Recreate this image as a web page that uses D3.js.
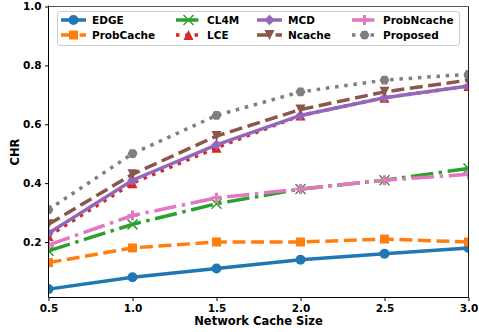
<!DOCTYPE html>
<html><head><meta charset="utf-8">
<script src="https://cdn.jsdelivr.net/npm/d3@7"></script>
<style>body{margin:0;background:#fff}svg{display:block}text{font-family:"DejaVu Sans",sans-serif;font-weight:bold}</style>
</head><body>
<svg id="c" width="479" height="332"></svg>
<script>
const xValues = [0.5, 1.0, 1.5, 2.0, 2.5, 3.0];
const xTicks = [0.5, 1.0, 1.5, 2.0, 2.5, 3.0];
const yTicks = [0.2, 0.4, 0.6, 0.8, 1.0];
const seriesNames = ["EDGE","ProbCache","CL4M","LCE","MCD","Ncache","ProbNcache","Proposed"];
const EDGE = [0.04, 0.08, 0.11, 0.14, 0.16, 0.18];
const ProbCache = [0.13, 0.18, 0.20, 0.20, 0.21, 0.20];
const CL4M = [0.17, 0.26, 0.33, 0.38, 0.41, 0.45];
const LCE = [0.22, 0.40, 0.52, 0.63, 0.69, 0.73];
const MCD = [0.23, 0.41, 0.53, 0.63, 0.69, 0.73];
const Ncache = [0.26, 0.43, 0.56, 0.65, 0.71, 0.75];
const ProbNcache = [0.19, 0.29, 0.35, 0.38, 0.41, 0.43];
const Proposed = [0.31, 0.50, 0.63, 0.71, 0.75, 0.77];
const seriesValues = [EDGE, ProbCache, CL4M, LCE, MCD, Ncache, ProbNcache, Proposed];

const lw = 3.5;
const styles = [
  {color:"#1f77b4", dash:null, marker:"circle"},
  {color:"#ff7f0e", dash:[3.7*lw,1.6*lw], marker:"square"},
  {color:"#2ca02c", dash:[6.4*lw,1.6*lw,1*lw,1.6*lw], marker:"x"},
  {color:"#d62728", dash:[1*lw,1.65*lw], marker:"triup"},
  {color:"#9467bd", dash:null, marker:"diamond"},
  {color:"#8c564b", dash:[3.7*lw,1.6*lw], marker:"tridown"},
  {color:"#e377c2", dash:[6.4*lw,1.6*lw,1*lw,1.6*lw], marker:"plus"},
  {color:"#7f7f7f", dash:[1*lw,1.65*lw], marker:"hexagon"}
];

const L = 48.5, R = 468.5, T = 6.5, B = 297.5;
const svg = d3.select("#c");
const x = d3.scaleLinear().domain([0.5, 3.0]).range([L, R]);
const y = d3.scaleLinear().domain([0.0115, 1.0]).range([B, T]);

svg.append("defs").append("clipPath").attr("id","clip")
  .append("rect").attr("x",L).attr("y",T).attr("width",R-L).attr("height",B-T);

function drawMarker(g, type, cx, cy, color, s) {
  const r = s/2;
  if (type === "circle") g.append("circle").attr("cx",cx).attr("cy",cy).attr("r",r).attr("fill",color);
  else if (type === "square") g.append("rect").attr("x",cx-r*0.9).attr("y",cy-r*0.9).attr("width",r*1.8).attr("height",r*1.8).attr("fill",color);
  else if (type === "diamond") g.append("path").attr("d",`M${cx},${cy-r*1.05}L${cx+r*1.05},${cy}L${cx},${cy+r*1.05}L${cx-r*1.05},${cy}Z`).attr("fill",color);
  else if (type === "triup") g.append("path").attr("d",`M${cx},${cy-r}L${cx+r},${cy+r}L${cx-r},${cy+r}Z`).attr("fill",color);
  else if (type === "tridown") g.append("path").attr("d",`M${cx},${cy+r}L${cx+r},${cy-r}L${cx-r},${cy-r}Z`).attr("fill",color);
  else if (type === "hexagon") {
    const pts = d3.range(6).map(i => { const a = Math.PI/6 + i*Math.PI/3 - Math.PI/2 + Math.PI/2; return [cx + r*Math.cos(a+Math.PI/6), cy + r*Math.sin(a+Math.PI/6)]; });
    g.append("path").attr("d","M"+pts.map(p=>p.join(",")).join("L")+"Z").attr("fill",color);
  }
  else if (type === "x") g.append("path").attr("d",`M${cx-r},${cy-r}L${cx+r},${cy+r}M${cx-r},${cy+r}L${cx+r},${cy-r}`).attr("stroke",color).attr("stroke-width",1.5).attr("fill","none");
  else if (type === "plus") g.append("path").attr("d",`M${cx-r},${cy}L${cx+r},${cy}M${cx},${cy-r}L${cx},${cy+r}`).attr("stroke",color).attr("stroke-width",3).attr("fill","none");
}

const plot = svg.append("g").attr("clip-path","url(#clip)");
const line = d3.line().x((d,i)=>x(xValues[i])).y(d=>y(d));
seriesValues.forEach((vals, si) => {
  const st = styles[si];
  const g = plot.append("g");
  g.append("path").datum(vals).attr("d", line).attr("fill","none")
    .attr("stroke", st.color).attr("stroke-width", lw)
    .attr("stroke-dasharray", st.dash ? st.dash.join(",") : null);
  vals.forEach((v,i) => drawMarker(g, st.marker, x(xValues[i]), y(v), st.color, 10));
});

// frame
svg.append("line").attr("x1",L).attr("x2",R).attr("y1",T).attr("y2",T).attr("stroke","#555").attr("stroke-width",1);
svg.append("line").attr("x1",R).attr("x2",R).attr("y1",T).attr("y2",B).attr("stroke","#222").attr("stroke-width",1);
svg.append("line").attr("x1",L).attr("x2",L).attr("y1",T-1).attr("y2",B).attr("stroke","#000").attr("stroke-width",1);
svg.append("line").attr("x1",L).attr("x2",R).attr("y1",B).attr("y2",B).attr("stroke","#000").attr("stroke-width",1);

const xAxis = svg.append("g").attr("transform",`translate(0,${B})`)
  .call(d3.axisBottom(x).tickValues(xTicks).tickFormat(d3.format(".1f")).tickSizeOuter(0).tickSize(3.5).tickPadding(3.5));
const yAxis = svg.append("g").attr("transform",`translate(${L},0)`)
  .call(d3.axisLeft(y).tickValues(yTicks).tickFormat(d3.format(".1f")).tickSizeOuter(0).tickSize(3.5).tickPadding(3.5));
[xAxis, yAxis].forEach(a => {
  a.select(".domain").remove();
  a.selectAll("text").attr("font-size", 10.5).attr("fill","#000").attr("font-weight","bold").attr("font-family","DejaVu Sans");
  a.selectAll("line").attr("stroke","#000");
});

svg.append("text").attr("x", (L+R)/2).attr("y", 325).attr("text-anchor","middle").attr("font-size",11.5).text("Network Cache Size");
svg.append("text").attr("transform","translate(19,152) rotate(-90)").attr("text-anchor","middle").attr("font-size",11.5).text("CHR");

// legend
const lg = svg.append("g");
lg.append("rect").attr("x",57.5).attr("y",11.5).attr("width",402).attr("height",34).attr("rx",2.5)
  .attr("fill","#fff").attr("fill-opacity",0.8).attr("stroke","#ccc").attr("stroke-width",1);
const colX = [61, 176, 257, 352];
const rowY = [20, 35];
seriesNames.forEach((name, si) => {
  const col = Math.floor(si/2), row = si%2;
  const st = styles[si];
  const hx = colX[col], hy = rowY[row], hl = 25;
  lg.append("line").attr("x1",hx).attr("x2",hx+hl).attr("y1",hy).attr("y2",hy)
    .attr("stroke",st.color).attr("stroke-width",lw)
    .attr("stroke-dasharray", st.dash ? st.dash.join(",") : null);
  drawMarker(lg, st.marker, hx+hl/2, hy, st.color, 10);
  lg.append("text").attr("x", hx+hl+6).attr("y", hy).attr("dy","0.35em").attr("font-size",10.5).attr("fill","#000").text(name);
});
</script>
</body></html>
